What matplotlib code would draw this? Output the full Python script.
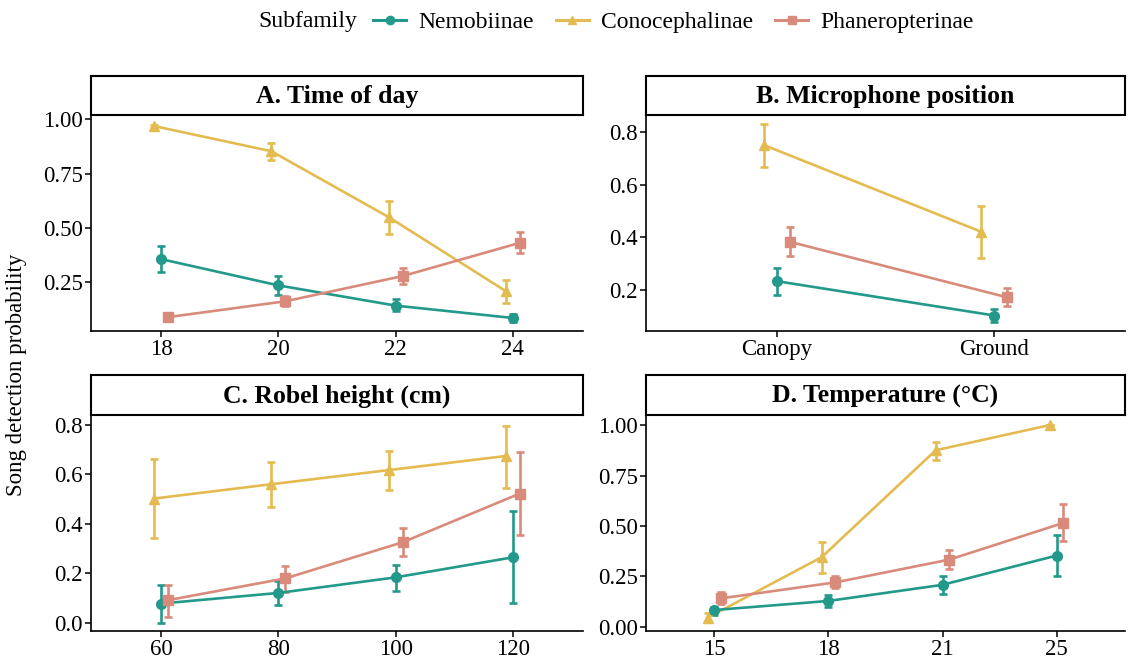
import numpy as np
import matplotlib
matplotlib.use("Agg")
from matplotlib import pyplot as plt
from matplotlib.lines import Line2D

plt.rcParams['font.family'] = ['Liberation Serif', 'DejaVu Serif']

subfamilies = ["Nemobiinae", "Conocephalinae", "Phaneropterinae"]
colors = {"Nemobiinae": "#22998B", "Conocephalinae": "#E4BB50", "Phaneropterinae": "#D98B7B"}
markers = {"Nemobiinae": "o", "Conocephalinae": "^", "Phaneropterinae": "s"}
dodge = {"Nemobiinae": 0.0, "Conocephalinae": -0.06, "Phaneropterinae": 0.06}

# A. Time of day
time_labels = ["18", "20", "22", "24"]
time_mean = {
    "Nemobiinae": [0.356, 0.235, 0.142, 0.085],
    "Conocephalinae": [0.969, 0.853, 0.550, 0.209],
    "Phaneropterinae": [0.089, 0.162, 0.278, 0.431],
}
time_lo = {
    "Nemobiinae": [0.297, 0.192, 0.115, 0.066],
    "Conocephalinae": [0.962, 0.812, 0.473, 0.155],
    "Phaneropterinae": [0.082, 0.139, 0.240, 0.384],
}
time_hi = {
    "Nemobiinae": [0.418, 0.278, 0.173, 0.105],
    "Conocephalinae": [0.975, 0.891, 0.625, 0.258],
    "Phaneropterinae": [0.097, 0.185, 0.317, 0.480],
}

# B. Microphone position
mic_labels = ["Canopy", "Ground"]
mic_mean = {
    "Nemobiinae": [0.232, 0.101],
    "Conocephalinae": [0.751, 0.420],
    "Phaneropterinae": [0.382, 0.170],
}
mic_lo = {
    "Nemobiinae": [0.178, 0.076],
    "Conocephalinae": [0.668, 0.319],
    "Phaneropterinae": [0.328, 0.138],
}
mic_hi = {
    "Nemobiinae": [0.283, 0.127],
    "Conocephalinae": [0.831, 0.520],
    "Phaneropterinae": [0.437, 0.204],
}

# C. Robel height
robel_labels = ["60", "80", "100", "120"]
robel_mean = {
    "Nemobiinae": [0.077, 0.120, 0.183, 0.264],
    "Conocephalinae": [0.502, 0.560, 0.617, 0.674],
    "Phaneropterinae": [0.091, 0.179, 0.325, 0.522],
}
robel_lo = {
    "Nemobiinae": [0.000, 0.071, 0.126, 0.081],
    "Conocephalinae": [0.342, 0.468, 0.538, 0.543],
    "Phaneropterinae": [0.024, 0.125, 0.269, 0.353],
}
robel_hi = {
    "Nemobiinae": [0.154, 0.167, 0.235, 0.450],
    "Conocephalinae": [0.660, 0.651, 0.695, 0.797],
    "Phaneropterinae": [0.152, 0.231, 0.384, 0.689],
}

# D. Temperature
temp_labels = ["15", "18", "21", "25"]
temp_mean = {
    "Nemobiinae": [0.083, 0.128, 0.208, 0.353],
    "Conocephalinae": [0.045, 0.345, 0.875, 1.000],
    "Phaneropterinae": [0.141, 0.220, 0.333, 0.515],
}
temp_lo = {
    "Nemobiinae": [0.058, 0.100, 0.162, 0.253],
    "Conocephalinae": [0.025, 0.267, 0.825, 0.998],
    "Phaneropterinae": [0.112, 0.192, 0.287, 0.423],
}
temp_hi = {
    "Nemobiinae": [0.100, 0.157, 0.250, 0.453],
    "Conocephalinae": [0.067, 0.420, 0.915, 1.000],
    "Phaneropterinae": [0.173, 0.250, 0.382, 0.608],
}

W, H = 1131, 661
fig = plt.figure(figsize=(W / 100, H / 100), dpi=100)


def px_axes(left, top, right, bottom):
    return fig.add_axes([left / W, 1 - bottom / H, (right - left) / W, (bottom - top) / H])


def panel(box, strip_top, title, labels, mean, lo, hi, ylim, yticks, yfmt):
    left, top, right, bottom = box
    ax = px_axes(left, top, right, bottom)
    n = len(labels)
    x = np.arange(n)
    for sf in ["Conocephalinae", "Nemobiinae", "Phaneropterinae"]:
        m = np.array(mean[sf])
        err = [m - np.array(lo[sf]), np.array(hi[sf]) - m]
        ax.errorbar(x + dodge[sf], m, yerr=err, color=colors[sf], marker=markers[sf],
                    markersize=7 if sf != "Phaneropterinae" else 6.5,
                    lw=1.9, elinewidth=1.9, capsize=3, capthick=1.9)
    ax.set_xlim(-0.6, n - 0.4)
    ax.set_ylim(*ylim)
    ax.set_xticks(x)
    ax.set_xticklabels(labels)
    ax.set_yticks(yticks)
    ax.set_yticklabels([yfmt.format(v) for v in yticks])
    for s in ["top", "right"]:
        ax.spines[s].set_visible(False)
    for s in ["left", "bottom"]:
        ax.spines[s].set_linewidth(1.2)
    ax.tick_params(labelsize=16.5, length=4, width=1.1, colors="black", pad=2)
    # strip
    sax = px_axes(left, strip_top, right, top)
    sax.set_xticks([])
    sax.set_yticks([])
    for s in sax.spines.values():
        s.set_linewidth(1.5)
    sax.text(0.5, 0.47, title, ha="center", va="center", fontsize=18.5, fontweight="bold",
             transform=sax.transAxes)
    return ax


panel((91, 115, 583, 331), 76, "A. Time of day", time_labels, time_mean, time_lo, time_hi,
      (0.025, 1.02), [0.25, 0.5, 0.75, 1.0], "{:.2f}")
panel((646, 115, 1125, 331), 76, "B. Microphone position", mic_labels, mic_mean, mic_lo, mic_hi,
      (0.042, 0.865), [0.2, 0.4, 0.6, 0.8], "{:.1f}")
panel((91, 415, 583, 631), 375, "C. Robel height (cm)", robel_labels, robel_mean, robel_lo, robel_hi,
      (-0.034, 0.84), [0.0, 0.2, 0.4, 0.6, 0.8], "{:.1f}")
panel((646, 415, 1125, 631), 375, "D. Temperature (\u00b0C)", temp_labels, temp_mean, temp_lo, temp_hi,
      (-0.021, 1.05), [0.0, 0.25, 0.5, 0.75, 1.0], "{:.2f}")

fig.text(17 / W, 1 - 375 / H, "Song detection probability", rotation=90, ha="center", va="center",
         fontsize=16.5)

handles = [Line2D([], [], color=colors[sf], marker=markers[sf], lw=2.2, markersize=6)
           for sf in subfamilies]
fig.text(258 / W, 1 - 22 / H, "Subfamily", ha="left", va="center", fontsize=17)
fig.legend(handles, subfamilies, loc="center left", bbox_to_anchor=(373 / W, 1 - 22 / H),
           ncol=3, frameon=False, fontsize=17, handlelength=1.4, handletextpad=0.5,
           columnspacing=0.95, borderaxespad=0, borderpad=0)

fig.savefig("out.png", dpi=100)
